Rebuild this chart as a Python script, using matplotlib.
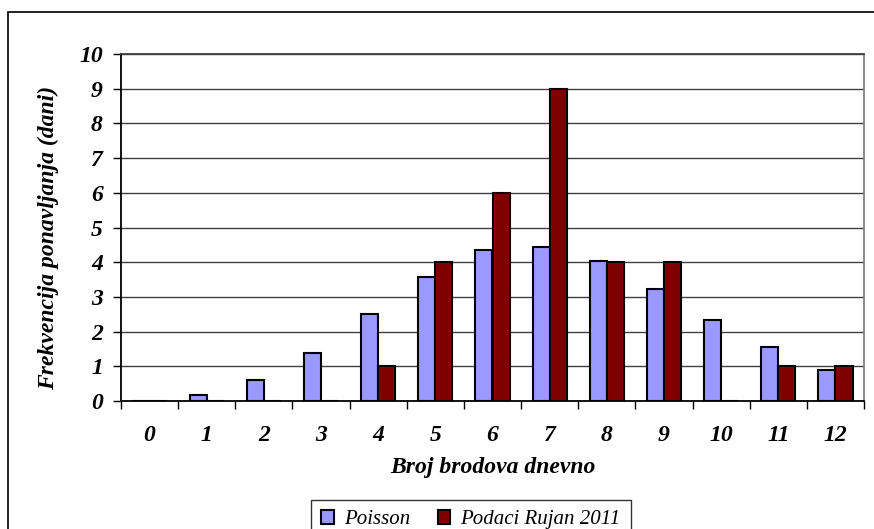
import numpy as np
import matplotlib.pyplot as plt
from matplotlib.patches import Rectangle

categories = ["0", "1", "2", "3", "4", "5", "6", "7", "8", "9", "10", "11", "12"]
poisson = [0.0, 0.17, 0.6, 1.37, 2.5, 3.57, 4.35, 4.45, 4.04, 3.22, 2.33, 1.55, 0.88]
podaci = [0, 0, 0, 0, 1, 4, 6, 9, 4, 4, 0, 1, 1]
y_ticks = [0, 1, 2, 3, 4, 5, 6, 7, 8, 9, 10]

plt.rcParams["font.family"] = ["Liberation Serif", "DejaVu Serif"]

fig = plt.figure(figsize=(8.74, 5.29), dpi=100)
W, H = 874, 529

# outer chart border (cut at right/bottom edges like the reference)
fig.patches.append(Rectangle((8 / W, -0.05), 1.0, (529 - 12) / H + 0.05,
                             transform=fig.transFigure, fill=False,
                             edgecolor="black", lw=1.2))

ax = fig.add_axes([121 / W, (H - 401) / H, (864 - 121) / W, (401 - 54) / H])

x = np.arange(len(categories))
w = 0.3
ax.bar(x - w / 2, poisson, w, color="#9999FF", edgecolor="black", lw=1.5,
       label="Poisson", zorder=3)
ax.bar(x + w / 2, podaci, w, color="#800000", edgecolor="black", lw=1.5,
       label="Podaci Rujan 2011", zorder=3)

ax.set_xlim(-0.5, len(categories) - 0.5)
ax.set_ylim(0, 10)
ax.set_yticks(y_ticks)
ax.set_yticklabels([str(v) for v in y_ticks], fontsize=17,
                   fontweight="bold", fontstyle="italic")
for v in y_ticks[1:]:
    ax.axhline(v, color="#404040", lw=1.0, zorder=1)

# category labels centred, tick marks between categories
ax.set_xticks(np.arange(-0.5, len(categories), 1.0))
ax.set_xticklabels([])
ax.set_xticks(x, minor=True)
ax.set_xticklabels(categories, minor=True, fontsize=17,
                   fontweight="bold", fontstyle="italic")
ax.tick_params(axis="x", which="minor", length=0, pad=17)
ax.tick_params(axis="x", which="major", length=6, width=1.0, direction="out")
ax.tick_params(axis="y", length=6, width=1.0, direction="out", pad=7)

ax.spines["left"].set_linewidth(1.3)
ax.spines["bottom"].set_linewidth(1.3)
ax.spines["top"].set_color("#404040")
ax.spines["top"].set_linewidth(1.3)
ax.spines["right"].set_color("#808080")
ax.spines["right"].set_linewidth(1.3)

ax.set_xlabel("Broj brodova dnevno", fontsize=17, fontweight="bold",
              fontstyle="italic", labelpad=8)
ax.set_ylabel("Frekvencija ponavljanja (dani)", fontsize=17, fontweight="bold",
              fontstyle="italic", va="center")
ax.yaxis.set_label_coords(-0.098, 0.47)

leg = fig.legend(loc="lower center", bbox_to_anchor=(471 / W, -0.04), ncol=2,
                 frameon=True, fancybox=False, edgecolor="black",
                 prop={"family": "Liberation Serif", "style": "italic", "size": 15},
                 handlelength=0.6, handleheight=0.6, handletextpad=0.5,
                 columnspacing=1.3, borderpad=0.5)
leg.get_frame().set_linewidth(1.0)

fig.savefig("out.png", dpi=100)
